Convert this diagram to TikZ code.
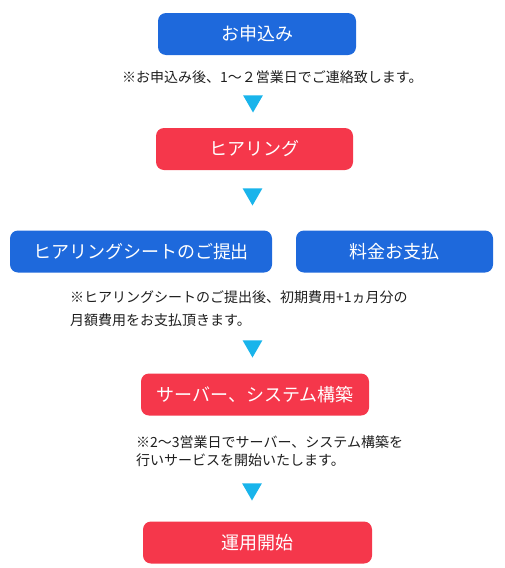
\documentclass[tikz,border=0pt]{standalone}
\usepackage{fontspec}
\usepackage{tikz}
\usetikzlibrary{positioning, shapes.geometric}
\newfontfamily\jpfont{Noto Sans CJK JP}
\definecolor{StepBlue}{RGB}{30, 105, 220}
\definecolor{StepRed}{RGB}{245, 55, 75}
\definecolor{ArrowCyan}{RGB}{25, 180, 235}
\definecolor{NoteText}{RGB}{30, 30, 30}

\begin{document}
\begin{tikzpicture}[
        x=1pt, y=1pt,
        % Styles globaux
        base/.style={align=center, font=\jpfont\fontsize{18}{20}\selectfont, text=white},
        % Etapes (bleu / rouge)
        box_blue/.style={base, fill=StepBlue, rounded corners=8pt, minimum height=42pt, inner sep=0pt},
        box_red/.style={base, fill=StepRed, rounded corners=8pt, minimum height=42pt, inner sep=0pt},
        % Remarques
        text_note/.style={align=left, font=\jpfont\fontsize{14}{23}\selectfont, text=NoteText, inner sep=0pt, anchor=west},
        % Triangles entre les etapes
        tri_down/.style={regular polygon, regular polygon sides=3, shape border rotate=180, fill=ArrowCyan, minimum size=23pt, inner sep=0pt}
    ]
    \useasboundingbox (0,0) rectangle (504,-568);

    % --- ETAPE 1 ---
    \node[box_blue, minimum width=198pt] (apply) at (257,-34) {お申込み};
    \node[text_note] (note1) at (122,-77) {※お申込み後、1～２営業日でご連絡致します。};
    \node[tri_down] (tri1) at (253,-101) {};

    % --- ETAPE 2 ---
    \node[box_red, minimum width=197pt] (hearing) at (254.5,-149) {ヒアリング};
    \node[tri_down] (tri2) at (252.5,-194) {};

    % --- ETAPE 3 ---
    \node[box_blue, minimum width=262pt] (sheet) at (141,-251.5) {ヒアリングシートのご提出};
    \node[box_blue, minimum width=197pt] (payment) at (394.5,-251.5) {料金お支払};
    \node[text_note] (note3) at (70,-308.5) {※ヒアリングシートのご提出後、初期費用+1ヵ月分の\\月額費用をお支払頂きます。};
    \node[tri_down] (tri3) at (252.5,-346) {};

    % --- ETAPE 4 ---
    \node[box_red, minimum width=228pt] (build) at (255,-394.5) {サーバー、システム構築};
    \node[text_note, font=\jpfont\fontsize{14}{18}\selectfont] (note4) at (136,-451) {※2～3営業日でサーバー、システム構築を\\行いサービスを開始いたします。};
    \node[tri_down] (tri4) at (252,-489) {};

    % --- ETAPE 5 ---
    \node[box_red, minimum width=229pt] (start) at (257.5,-542.5) {運用開始};

\end{tikzpicture}
\end{document}
